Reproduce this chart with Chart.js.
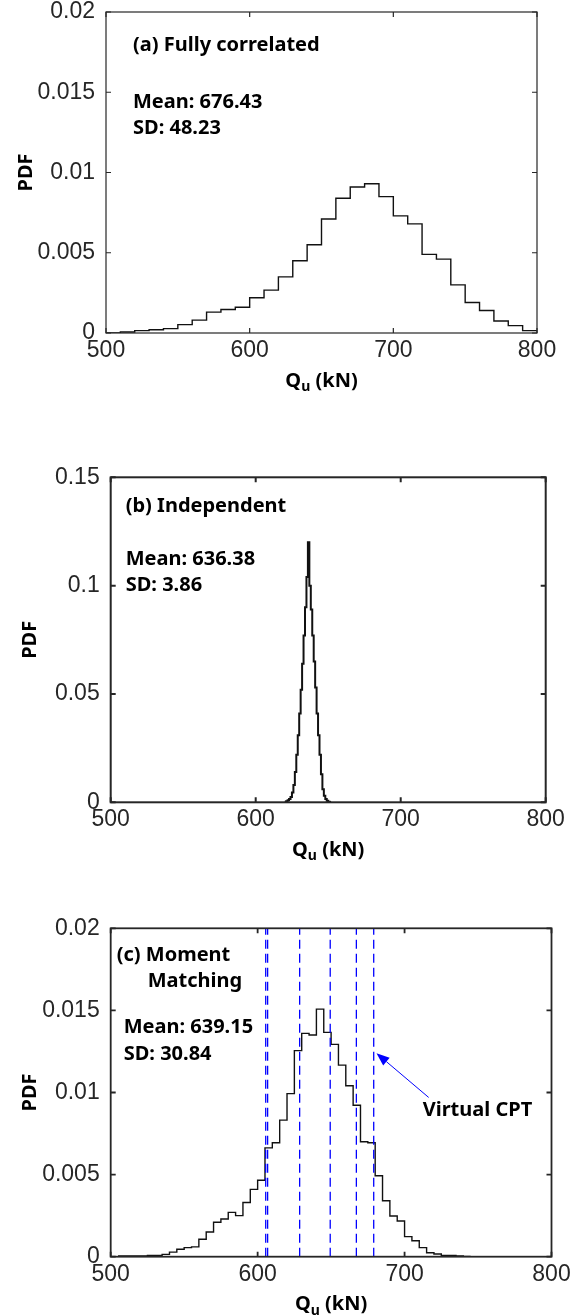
<!DOCTYPE html>
<html lang="en">
<head>
    <meta charset="utf-8">
    <title>PDF of Qu</title>
    <style>
        body { margin: 0; background: #fff; }
        canvas { position: absolute; left: 0; }
    </style>
</head>
<body>
    <canvas id="chartA" width="581" height="420" style="top:0px"></canvas>
    <canvas id="chartB" width="581" height="440" style="top:440px"></canvas>
    <canvas id="chartC" width="581" height="436" style="top:880px"></canvas>
    <script src="https://cdn.jsdelivr.net/npm/chart.js"></script>
    <script>
        // x axis (all panels)
        const xTicks = [500, 600, 700, 800]

        // (a) fully correlated, 10 kN bins from 500
        const binStartA = 500
        const binWidthA = 10
        const pdfA = [0.00001, 0.00006, 0.00015, 0.0002, 0.00027, 0.00052, 0.0008, 0.0013, 0.00146, 0.0016,
            0.0022, 0.00267, 0.0035, 0.0045, 0.0055, 0.0071, 0.0084, 0.0091, 0.0093, 0.0085,
            0.0073, 0.0068, 0.0049, 0.0046, 0.003, 0.0019, 0.0014, 0.00075, 0.00046, 0.00015]
        const yTicksA = [0, 0.005, 0.01, 0.015, 0.02]

        // (b) independent, 1 kN bins from 620
        const binStartB = 620
        const binWidthB = 1
        const pdfB = [0.0002, 0.0005, 0.001, 0.0015, 0.0025, 0.0045, 0.008, 0.014, 0.022, 0.031,
            0.041, 0.052, 0.064, 0.077, 0.09, 0.104, 0.12, 0.1, 0.089, 0.077,
            0.065, 0.053, 0.041, 0.031, 0.022, 0.013, 0.006, 0.003, 0.0015, 0.0007,
            0.0003, 0.0001]
        const yTicksB = [0, 0.05, 0.1, 0.15]

        // (c) moment matching, 5 kN bins from 505
        const binStartC = 505
        const binWidthC = 5
        const pdfC = [0.00004, 0.00004, 0.00004, 0.00004, 0.00008, 0.00008, 0.00014, 0.00028, 0.00045, 0.00055,
            0.0006, 0.00106, 0.0015, 0.0021, 0.0023, 0.0027, 0.0025, 0.0033, 0.0041, 0.00466,
            0.00663, 0.00694, 0.00832, 0.00993, 0.01255, 0.0136, 0.0135, 0.01508, 0.01366, 0.01293,
            0.01167, 0.01041, 0.00922, 0.007, 0.00694, 0.00493, 0.00341, 0.00248, 0.00217, 0.00122,
            0.00097, 0.00055, 0.00024, 0.00016, 0.00008, 0.00008, 0.00004, 0.00002]
        const yTicksC = [0, 0.005, 0.01, 0.015, 0.02]
        const cptPositions = [605.5, 606.8, 628.6, 649.4, 667.2, 679.0]
        const arrowTail = { x: 716.4, y: 0.0097 }
        const arrowTip = { x: 680.9, y: 0.01239 }

        const TICK_FONT = '"Liberation Sans", Arial, sans-serif'
        const TEXT_FONT = '"Noto Sans", "Open Sans", sans-serif'

        function stairs(start, width, values) {
            // left edge of every bin, plus the closing right edge
            const pts = values.map((v, i) => ({ x: start + i * width, y: v }))
            pts.push({ x: start + values.length * width, y: values[values.length - 1] })
            return pts
        }

        // frame with inward ticks, texts, axis titles, arrow
        const panelDecor = {
            id: 'panelDecor',
            afterDraw(chart, args, opts) {
                const ctx = chart.ctx
                const { left, right, top, bottom } = chart.chartArea
                const xs = chart.scales.x
                const ys = chart.scales.y
                ctx.save()
                ctx.strokeStyle = '#262626'
                ctx.lineWidth = opts.frameWidth
                ctx.strokeRect(left, top, right - left, bottom - top)
                ctx.beginPath()
                xs.ticks.forEach(t => {
                    const px = xs.getPixelForValue(t.value)
                    ctx.moveTo(px, bottom); ctx.lineTo(px, bottom - 5)
                    ctx.moveTo(px, top); ctx.lineTo(px, top + 5)
                })
                ys.ticks.forEach(t => {
                    const py = ys.getPixelForValue(t.value)
                    ctx.moveTo(left, py); ctx.lineTo(left + 5, py)
                    ctx.moveTo(right, py); ctx.lineTo(right - 5, py)
                })
                ctx.stroke()

                // annotations
                ctx.fillStyle = '#000'
                ctx.textBaseline = 'middle'
                ctx.textAlign = 'left'
                ctx.font = 'bold 20px ' + TEXT_FONT
                opts.texts.forEach(t => ctx.fillText(t.text, left + t.dx, top + t.dy))

                // x title: Q_u (kN)
                const big = 'bold 20px ' + TEXT_FONT
                const small = 'bold 14px ' + TEXT_FONT
                ctx.font = big
                const wQ = ctx.measureText('Q').width
                const wRest = ctx.measureText(' (kN)').width
                ctx.font = small
                const wU = ctx.measureText('u').width
                let tx = (left + right) / 2 - (wQ + wU + wRest) / 2
                const ty = bottom + 48
                ctx.font = big
                ctx.fillText('Q', tx, ty)
                tx += wQ
                ctx.font = small
                ctx.fillText('u', tx, ty + 6)
                tx += wU
                ctx.font = big
                ctx.fillText(' (kN)', tx, ty)

                // y title
                ctx.save()
                ctx.translate(left - 80, (top + bottom) / 2)
                ctx.rotate(-Math.PI / 2)
                ctx.textAlign = 'center'
                ctx.fillText('PDF', 0, 0)
                ctx.restore()

                if (opts.arrow) {
                    const x1 = xs.getPixelForValue(opts.arrow.from.x)
                    const y1 = ys.getPixelForValue(opts.arrow.from.y)
                    const x2 = xs.getPixelForValue(opts.arrow.to.x)
                    const y2 = ys.getPixelForValue(opts.arrow.to.y)
                    const ang = Math.atan2(y2 - y1, x2 - x1)
                    const len = 13, half = 5
                    const bx = x2 - len * Math.cos(ang)
                    const by = y2 - len * Math.sin(ang)
                    ctx.strokeStyle = '#0000ff'
                    ctx.fillStyle = '#0000ff'
                    ctx.lineWidth = 1
                    ctx.beginPath()
                    ctx.moveTo(x1, y1); ctx.lineTo(bx, by)
                    ctx.stroke()
                    ctx.beginPath()
                    ctx.moveTo(x2, y2)
                    ctx.lineTo(bx + half * Math.sin(ang), by - half * Math.cos(ang))
                    ctx.lineTo(bx - half * Math.sin(ang), by + half * Math.cos(ang))
                    ctx.closePath()
                    ctx.fill()
                }
                ctx.restore()
            }
        }

        function makePanel(id, canvasH, area, yTicks, datasets, decor) {
            const yMax = yTicks[yTicks.length - 1]
            return new Chart(document.getElementById(id), {
                type: 'line',
                data: { datasets: datasets },
                options: {
                    responsive: false,
                    animation: false,
                    layout: { padding: { left: 0, top: area.top, right: 581 - area.right, bottom: 0 } },
                    elements: { point: { radius: 0 } },
                    scales: {
                        x: {
                            type: 'linear',
                            min: xTicks[0],
                            max: xTicks[xTicks.length - 1],
                            afterBuildTicks: s => { s.ticks = xTicks.map(v => ({ value: v })) },
                            ticks: {
                                color: '#262626',
                                font: { family: TICK_FONT, size: 23 },
                                padding: 4,
                                maxRotation: 0,
                                autoSkip: false
                            },
                            grid: { display: false, drawTicks: false },
                            border: { display: false },
                            afterFit: s => { s.height = canvasH - area.bottom; s.paddingLeft = 0; s.paddingRight = 0 }
                        },
                        y: {
                            min: 0,
                            max: yMax,
                            afterBuildTicks: s => { s.ticks = yTicks.map(v => ({ value: v })) },
                            ticks: {
                                color: '#262626',
                                font: { family: TICK_FONT, size: 23 },
                                padding: 11,
                                callback: v => String(+v.toFixed(4))
                            },
                            grid: { display: false, drawTicks: false },
                            border: { display: false },
                            afterFit: s => { s.width = area.left; s.paddingTop = 0; s.paddingBottom = 0 }
                        }
                    },
                    plugins: {
                        legend: { display: false },
                        tooltip: { enabled: false },
                        panelDecor: decor
                    }
                },
                plugins: [panelDecor]
            })
        }

        function histSet(points, width) {
            return {
                data: points,
                borderColor: '#111',
                borderWidth: width,
                stepped: 'before',
                fill: false
            }
        }

        makePanel('chartA', 420, { left: 106, right: 537, top: 12, bottom: 333 }, yTicksA,
            [histSet(stairs(binStartA, binWidthA, pdfA), 1.4)],
            {
                frameWidth: 1.2,
                texts: [
                    { text: '(a) Fully correlated', dx: 27, dy: 33 },
                    { text: 'Mean: 676.43', dx: 27, dy: 90 },
                    { text: 'SD: 48.23', dx: 27, dy: 116 }
                ]
            })

        makePanel('chartB', 440, { left: 110.7, right: 545.7, top: 37.3, bottom: 362.3 }, yTicksB,
            [histSet(stairs(binStartB, binWidthB, pdfB), 2)],
            {
                frameWidth: 2,
                texts: [
                    { text: '(b) Independent', dx: 15, dy: 29 },
                    { text: 'Mean: 636.38', dx: 15, dy: 82 },
                    { text: 'SD: 3.86', dx: 15, dy: 108 }
                ]
            })

        const cptSets = cptPositions.map(x => ({
            data: [{ x: x, y: 0 }, { x: x, y: yTicksC[yTicksC.length - 1] }],
            borderColor: '#0000ff',
            borderWidth: 1.3,
            borderDash: [9, 5],
            fill: false
        }))
        makePanel('chartC', 436, { left: 110.7, right: 551.5, top: 48.3, bottom: 376.7 }, yTicksC,
            cptSets.concat([histSet(stairs(binStartC, binWidthC, pdfC), 1.4)]),
            {
                frameWidth: 1.8,
                texts: [
                    { text: '(c) Moment', dx: 6, dy: 27 },
                    { text: 'Matching', dx: 37, dy: 53 },
                    { text: 'Mean: 639.15', dx: 13, dy: 99 },
                    { text: 'SD: 30.84', dx: 13, dy: 126 },
                    { text: 'Virtual CPT', dx: 312, dy: 182 }
                ],
                arrow: { from: arrowTail, to: arrowTip }
            })
    </script>
</body>
</html>
